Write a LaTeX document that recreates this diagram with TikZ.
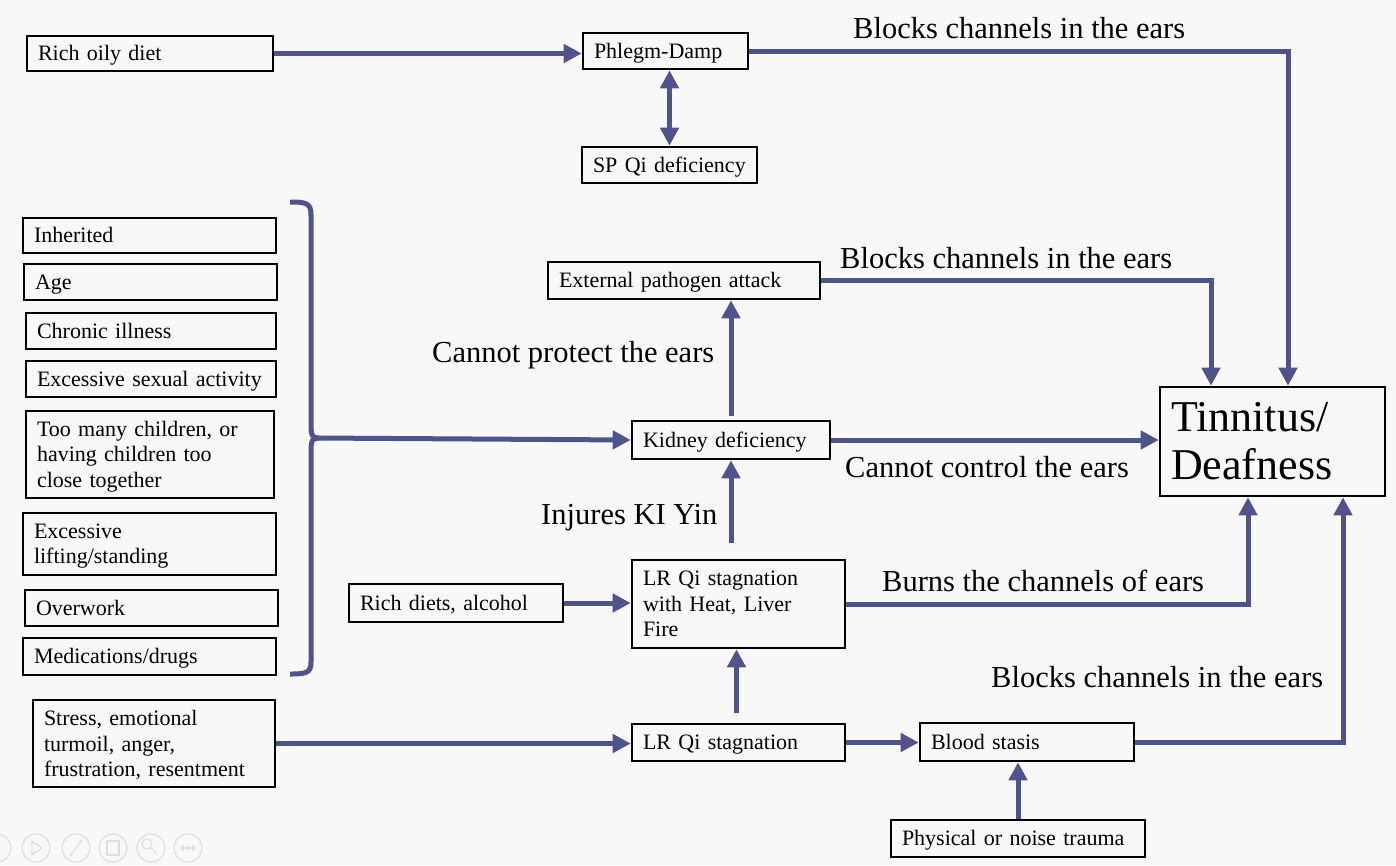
\documentclass[tikz,border=0pt]{standalone}
\usepackage{fontspec}
\setmainfont{Liberation Serif}
\usetikzlibrary{arrows.meta}
\definecolor{arrowc}{RGB}{80,82,140}
\definecolor{bgc}{RGB}{248,248,248}
\definecolor{iconc}{RGB}{222,222,222}
\newcommand{\upstrut}{\rule{0pt}{19pt}}
\begin{document}
\begin{tikzpicture}[x=1pt,y=-1pt,
  box/.style={draw=black, line width=2.6pt, fill=bgc, inner xsep=11pt, inner ysep=0pt,
    align=left, font=\fontsize{22}{25.5}\selectfont},
  one/.style={box, text height=19pt, text depth=4.4pt},
  arr/.style={draw=arrowc, line width=5pt, -{Triangle[length=18pt,width=18pt]}},
  darr/.style={draw=arrowc, line width=5pt, {Triangle[length=18pt,width=18pt]}-{Triangle[length=18pt,width=18pt]}},
  lbl/.style={font=\fontsize{30.5}{34}\selectfont, anchor=base west, inner sep=0pt},
  icon/.style={draw=iconc, line width=1.2pt},
]
\useasboundingbox (0,0) rectangle (1396,865);
\fill[bgc] (0,0) rectangle (1396,865);

% top group
\node[one, text width=224pt, minimum height=35pt] (richoily) at (150,53.5) {Rich oily diet};
\node[one, text width=143pt, minimum height=36pt] (phlegm) at (665.5,51) {Phlegm-Damp};
\node[one, text width=153pt, minimum height=36pt] (spqi) at (669.5,165) {SP Qi deficiency};

% left column
\node[one, text width=231pt, minimum height=35pt] (inherited) at (149.5,235.5) {Inherited};
\node[one, text width=231pt, minimum height=36pt] (age) at (150.5,282) {Age};
\node[one, text width=228pt, minimum height=36pt] (chronic) at (151,331) {Chronic illness};
\node[one, text width=228pt, minimum height=36pt] (sexual) at (151,379) {Excessive sexual activity};
\node[box, text width=226pt, minimum height=87pt] (children) at (150,454.5) {\upstrut Too many children, or\\having children too\\close together};
\node[box, text width=231pt, minimum height=62pt] (lifting) at (149.5,544) {\upstrut Excessive\\lifting/standing};
\node[one, text width=231pt, minimum height=36pt] (overwork) at (151.5,608) {Overwork};
\node[one, text width=231pt, minimum height=37pt] (meds) at (149.5,656.5) {Medications/drugs};
\node[box, text width=220pt, minimum height=87pt] (stress) at (154,743.5) {\upstrut Stress, emotional\\turmoil, anger,\\frustration, resentment};

% middle
\node[one, text width=250pt, minimum height=37pt] (external) at (684,280.5) {External pathogen attack};
\node[one, text width=176pt, minimum height=38pt] (kidney) at (731,440) {Kidney deficiency};
\node[one, text width=192pt, minimum height=38pt] (richdiets) at (456,603) {Rich diets, alcohol};
\node[box, text width=191pt, minimum height=88pt] (lrheat) at (738.5,604) {LR Qi stagnation\\with Heat, Liver\\Fire};
\node[one, text width=191pt, minimum height=37pt] (lrqi) at (738.5,742.5) {LR Qi stagnation};
\node[one, text width=192pt, minimum height=38pt] (blood) at (1027,742) {Blood stasis};
\node[one, text width=232pt, minimum height=37pt] (physical) at (1018,838.5) {Physical or noise trauma};

% target
\node[box, text width=203pt, minimum height=109pt, font=\fontsize{44}{48}\selectfont] (tinnitus) at (1272.5,441.5) {Tinnitus/\\Deafness};

% bracket
\draw[draw=arrowc, line width=5pt] (290,202) .. controls (306,202) and (311,203) .. (311,215) -- (311,428)
  .. controls (311,435) and (313,438) .. (318,438)
  .. controls (313,438) and (311,441) .. (311,448) -- (311,662)
  .. controls (311,673) and (306,674) .. (290,674);
\coordinate (brtip) at (316,438);

% connectors
\draw[arr] (richoily.east) -- (richoily.east -| phlegm.west);
\draw[darr] (spqi.north) -- (spqi.north |- phlegm.south);
\draw[arr] (phlegm.east) -| ([xshift=15.5pt]tinnitus.north);
\draw[arr] (external.east) -| ([xshift=-61.5pt]tinnitus.north);
\draw[arr, shorten <=4pt] (kidney.north) -- (kidney.north |- external.south);
\draw[arr] (kidney.east) -- (kidney.east -| tinnitus.west);
\draw[arr] (brtip) -- (kidney.west);
\draw[arr, shorten <=16pt] (kidney.south |- lrheat.north) -- (kidney.south);
\draw[arr] (richdiets.east) -- (richdiets.east -| lrheat.west);
\draw[arr] (lrheat.east) -| ([xshift=-24.5pt]tinnitus.south);
\draw[arr, shorten <=10pt] ([xshift=-2pt]lrqi.north) -- ([xshift=-2pt]lrheat.south);
\draw[arr] (stress.east) -- (stress.east -| lrqi.west);
\draw[arr] (lrqi.east) -- (lrqi.east -| blood.west);
\draw[arr] (blood.east) -| ([xshift=70.5pt]tinnitus.south);
\draw[arr] (physical.north) -- (physical.north |- blood.south);

% labels
\node[lbl] (l1) at (853,38) {Blocks channels in the ears};
\node[lbl] (l2) at (840,268) {Blocks channels in the ears};
\node[lbl] (l3) at (432,362) {Cannot protect the ears};
\node[lbl] (l4) at (845,477) {Cannot control the ears};
\node[lbl] (l5) at (541,524) {Injures KI Yin};
\node[lbl] (l6) at (882,591) {Burns the channels of ears};
\node[lbl] (l7) at (991,687) {Blocks channels in the ears};

% faint slideshow toolbar
\foreach \cx in {-3,36,76,113,151,188} \draw[icon] (\cx,848) circle[radius=14pt];
\draw[icon] (32,841) -- (32,855) -- (42,848) -- cycle;
\draw[icon] (70,856) -- (82,840);
\draw[icon] (107,841) rectangle (119,855);
\draw[icon] (147,844) circle[radius=5pt] (151,848) -- (157,854);
\foreach \dx in {-5,0,5} \draw[icon] (188+\dx,848) circle[radius=1.5pt];
\end{tikzpicture}
\end{document}
